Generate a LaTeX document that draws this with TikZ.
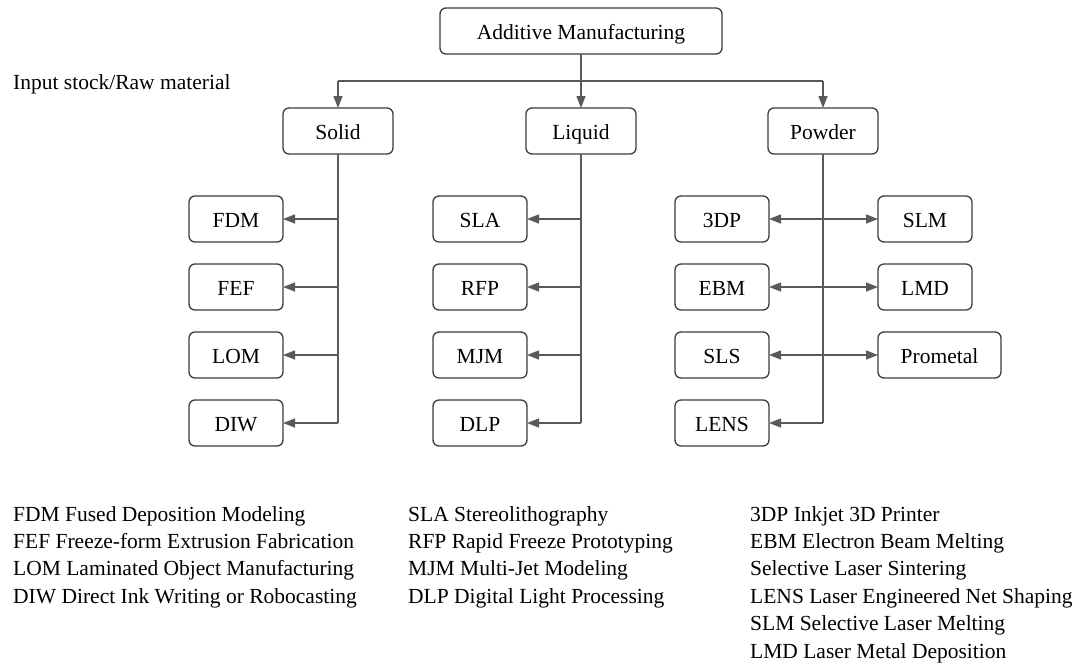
\documentclass[tikz,border=0pt]{standalone}
\usepackage{fontspec}
\setmainfont{Liberation Serif}
\usetikzlibrary{arrows.meta,positioning}
\definecolor{boxcol}{HTML}{3C3C3C}
\definecolor{wirecol}{HTML}{5A5A5A}
\begin{document}
\begin{tikzpicture}[x=1pt,y=-1pt,
	every node/.style={font=\fontsize{21.5}{26}\selectfont},
	box/.style={draw=boxcol, line width=1.3pt, rounded corners=6pt, minimum height=46pt, minimum width=94pt,
		inner sep=0pt, outer sep=0pt, text height=18.5pt, text depth=1.5pt},
	widebox/.style={box, minimum width=110pt},
	wire/.style={draw=wirecol, line width=1.4pt},
	arr/.style={wire, -{Triangle[length=12pt,width=9pt]}},
	dblarr/.style={wire, {Triangle[length=12pt,width=9pt]}-{Triangle[length=12pt,width=9pt]}},
	legend/.style={anchor=base west, inner sep=0pt}]
			\useasboundingbox (0,0) rectangle (1079,662);
			% Kopf und Rohstoff
			\node[box, minimum width=282pt] (am) at (581,31) {Additive Manufacturing};
			\node[legend] (stock) at (13,89) {Input stock/Raw material};
			\node[widebox] (solid) at (338,131) {Solid};
			\node[widebox] (liquid) at (581,131) {Liquid};
			\node[widebox] (powder) at (823,131) {Powder};
			\coordinate (bus) at (581,81);
			\draw[wire] (am.south) -- (bus);
			\draw[wire] (bus -| solid) -- (bus -| powder);
			\foreach \m in {solid,liquid,powder}
				\draw[arr] (bus -| \m) -- (\m.north);
			% Solid
			\node[box] (fdm) at (236,219) {FDM};
			\node[box, below=22pt of fdm] (fef) {FEF};
			\node[box, below=22pt of fef] (lom) {LOM};
			\node[box, below=22pt of lom] (diw) {DIW};
			\draw[wire] (solid.south) -- (solid.south |- diw.east);
			\foreach \c in {fdm,fef,lom,diw}
				\draw[arr] (solid.south |- \c.east) -- (\c.east);
			% Liquid
			\node[box] (sla) at (480,219) {SLA};
			\node[box, below=22pt of sla] (rfp) {RFP};
			\node[box, below=22pt of rfp] (mjm) {MJM};
			\node[box, below=22pt of mjm] (dlp) {DLP};
			\draw[wire] (liquid.south) -- (liquid.south |- dlp.east);
			\foreach \c in {sla,rfp,mjm,dlp}
				\draw[arr] (liquid.south |- \c.east) -- (\c.east);
			% Powder
			\node[box] (tdp) at (722,219) {3DP};
			\node[box, below=22pt of tdp] (ebm) {EBM};
			\node[box, below=22pt of ebm] (sls) {SLS};
			\node[box, below=22pt of sls] (lens) {LENS};
			\node[box] (slm) at (925,219) {SLM};
			\node[box, below=22pt of slm] (lmd) {LMD};
			\node[box, minimum width=123pt, anchor=west] (prometal) at (lmd.south west |- sls.west) {Prometal};
			\draw[wire] (powder.south) -- (powder.south |- lens.east);
			\draw[arr] (powder.south |- lens.east) -- (lens.east);
			\draw[dblarr] (tdp.east) -- (slm.west);
			\draw[dblarr] (ebm.east) -- (lmd.west);
			\draw[dblarr] (sls.east) -- (prometal.west);
			% Legende
			\foreach \t [count=\i from 0] in {FDM Fused Deposition Modeling, FEF Freeze-form Extrusion Fabrication, LOM Laminated Object Manufacturing, DIW Direct Ink Writing or Robocasting}
				\node[legend] (solidkey\i) at (13,521+27.4*\i) {\t};
			\foreach \t [count=\i from 0] in {SLA Stereolithography, RFP Rapid Freeze Prototyping, MJM Multi-Jet Modeling, DLP Digital Light Processing}
				\node[legend] (liquidkey\i) at (408,521+27.4*\i) {\t};
			\foreach \t [count=\i from 0] in {3DP Inkjet 3D Printer, EBM Electron Beam Melting, Selective Laser Sintering, LENS Laser Engineered Net Shaping, SLM Selective Laser Melting, LMD Laser Metal Deposition}
				\node[legend] (powderkey\i) at (750,521+27.4*\i) {\t};
\end{tikzpicture}
\end{document}
